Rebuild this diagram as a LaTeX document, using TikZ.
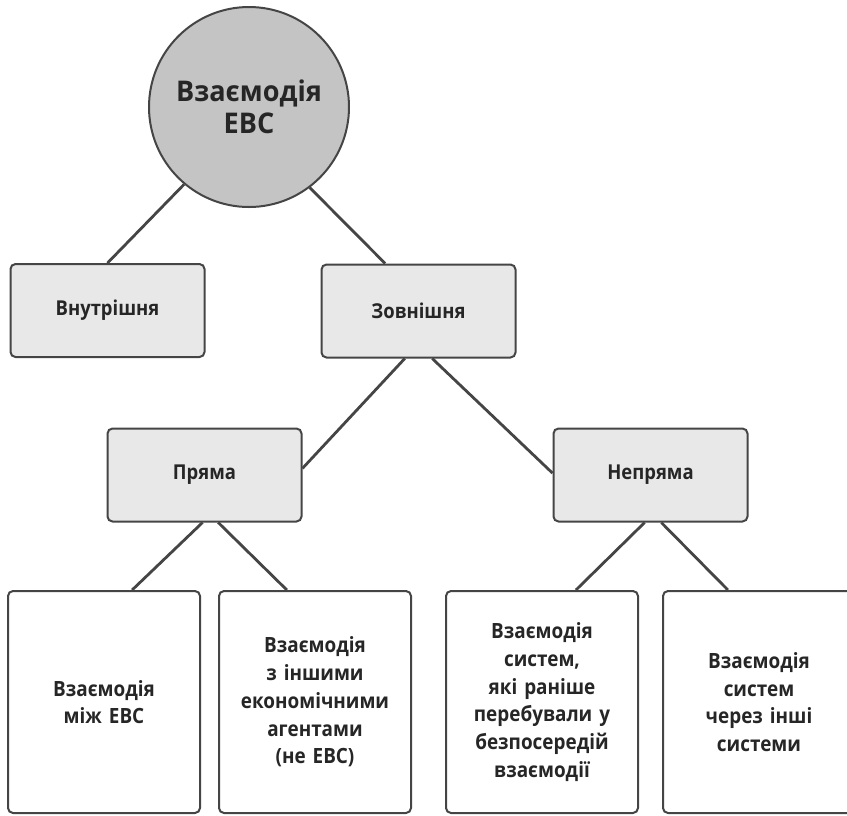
\documentclass[tikz,border=0pt]{standalone}
\usepackage{fontspec}
\setmainfont{Open Sans}
\newfontfamily\narrowsans[FakeStretch=0.9]{Open Sans}
\newfontfamily\rootsans[FakeStretch=0.95]{Open Sans}
\usetikzlibrary{calc}
\definecolor{linegray}{HTML}{454545}
\definecolor{rootfill}{HTML}{C4C4C4}
\definecolor{boxfill}{HTML}{E8E8E8}
\definecolor{textgray}{HTML}{262626}
\tikzset{
    %Define style for the root circle
    rootc/.style={
           circle,
           draw=linegray, line width=2pt,
           fill=rootfill,
           minimum size=200pt,
           inner sep=0pt,
           align=center,
           text=textgray,
           font=\rootsans\bfseries\fontsize{28.5}{32}\selectfont},
    %Define style for grey boxes
    squ/.style={
           rectangle,
           rounded corners=5pt,
           draw=linegray, line width=2pt,
           fill=boxfill,
           minimum width=194pt,
           minimum height=93pt,
           text=textgray,
           font=\narrowsans\bfseries\fontsize{20.5}{27}\selectfont,
           text centered},
    %different type of node
    leaf/.style={
           rectangle,
           rounded corners=5pt,
           draw=linegray, line width=2pt,
           fill=white,
           minimum width=192pt,
           minimum height=222pt,
           text width=180pt,
           align=center,
           text=textgray,
           font=\narrowsans\bfseries\fontsize{21}{27.7}\selectfont},
    % Define line style
    pil/.style={
           draw=linegray,
           line width=2.8pt}
}
\begin{document}
\begin{tikzpicture}[x=1pt,y=-1pt]
\useasboundingbox (0,0) rectangle (847,815);

\node[rootc] (R) at (249,107) {Взаємодія\\ЕВС};
\node[squ] (In) at (107.5,310.5) {Внутрішня};
\node[squ] (Out) at (418.5,311) {Зовнішня};
\node[squ] (Dir) at (204.5,475) {Пряма};
\node[squ] (Ind) at (650.5,475) {Непряма};
\node[leaf] (L1) at (104,702) {Взаємодія\\між ЕВС};
\node[leaf] (L2) at (315,702) {Взаємодія\\з іншими\\економічними\\агентами\\(не ЕВС)};
\node[leaf] (L3) at (542,702) {Взаємодія\\систем,\\які раніше\\перебували у\\безпосередій\\взаємодії};
\node[leaf] (L4) at (759,702) {Взаємодія\\систем\\через інші\\системи};

\path
 (R.230)	edge[pil] (In.north)
 (R.307)	edge[pil] ($(Out.north west)!0.33!(Out.north east)$)
 ($(Out.south west)!0.43!(Out.south east)$)	edge[pil] ($(Dir.north east)!0.43!(Dir.south east)$)
 ($(Out.south west)!0.57!(Out.south east)$)	edge[pil] ($(Ind.north west)!0.48!(Ind.south west)$)
 ($(Dir.south west)!0.49!(Dir.south east)$)	edge[pil] ($(L1.north west)!0.645!(L1.north east)$)
 ($(Dir.south west)!0.57!(Dir.south east)$)	edge[pil] ($(L2.north west)!0.355!(L2.north east)$)
 ($(Ind.south west)!0.47!(Ind.south east)$)	edge[pil] ($(L3.north west)!0.675!(L3.north east)$)
 ($(Ind.south west)!0.555!(Ind.south east)$)	edge[pil] ($(L4.north west)!0.34!(L4.north east)$);

\end{tikzpicture}
\end{document}
